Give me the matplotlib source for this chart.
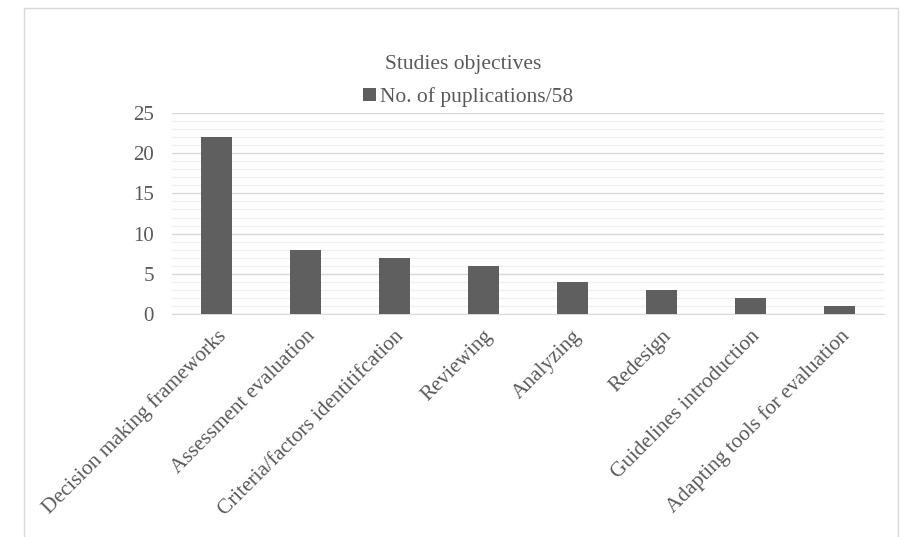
import numpy as np
import matplotlib
matplotlib.use("Agg")
from matplotlib import pyplot as plt
from matplotlib.patches import Rectangle
from matplotlib.ticker import MultipleLocator

categories = ["Decision making frameworks", "Assessment evaluation",
              "Criteria/factors identitifcation", "Reviewing", "Analyzing",
              "Redesign", "Guidelines introduction", "Adapting tools for evaluation"]
publications = [22, 8, 7, 6, 4, 3, 2, 1]
series_name = "No. of puplications/58"
y_ticks = [0, 5, 10, 15, 20, 25]

TEXT = "#595959"
BAR = "#5f5f5f"

plt.rcParams["font.family"] = ["Liberation Serif", "DejaVu Serif"]

fig = plt.figure(figsize=(9.06, 5.37), dpi=100)
ax = fig.add_axes([172 / 906, 1 - 314 / 537, 712 / 906, 201 / 537])

# chart frame
fig.add_artist(Rectangle((24 / 906, -0.05), 874 / 906, 1.05 - 8 / 537,
                         transform=fig.transFigure, fill=False,
                         edgecolor="#d9d9d9", linewidth=1.0))

x = np.arange(len(categories))
ax.bar(x, publications, width=0.34, color=BAR, label=series_name, zorder=3)

ax.set_xlim(-0.5, len(categories) - 0.5)
ax.set_ylim(0, 25)
ax.set_yticks(y_ticks)
ax.yaxis.set_minor_locator(MultipleLocator(1))
ax.grid(axis="y", which="major", color="#d9d9d9", linewidth=1.0, zorder=0)
ax.grid(axis="y", which="minor", color="#f0f0f0", linewidth=1.0, zorder=0)

for s in ["top", "right", "left"]:
    ax.spines[s].set_visible(False)
ax.spines["bottom"].set_color("#d9d9d9")
ax.tick_params(axis="both", which="both", length=0, colors=TEXT, labelsize=15)
ax.tick_params(axis="y", pad=13)

ax.set_xticks(x)
ax.set_xticklabels(categories, rotation=45, ha="right", va="top",
                   rotation_mode="anchor", fontsize=15.3)
ax.tick_params(axis="x", pad=9)

fig.text(463 / 906, 1 - 65 / 537, "Studies objectives", ha="center",
         va="center", fontsize=15.5, color=TEXT)
ax.legend(loc="center", bbox_to_anchor=(468 / 906, 1 - 97 / 537),
          bbox_transform=fig.transFigure, frameon=False, fontsize=15.5,
          labelcolor=TEXT, handlelength=0.6, handleheight=0.6,
          handletextpad=0.2)

fig.savefig("out.png", dpi=100)
